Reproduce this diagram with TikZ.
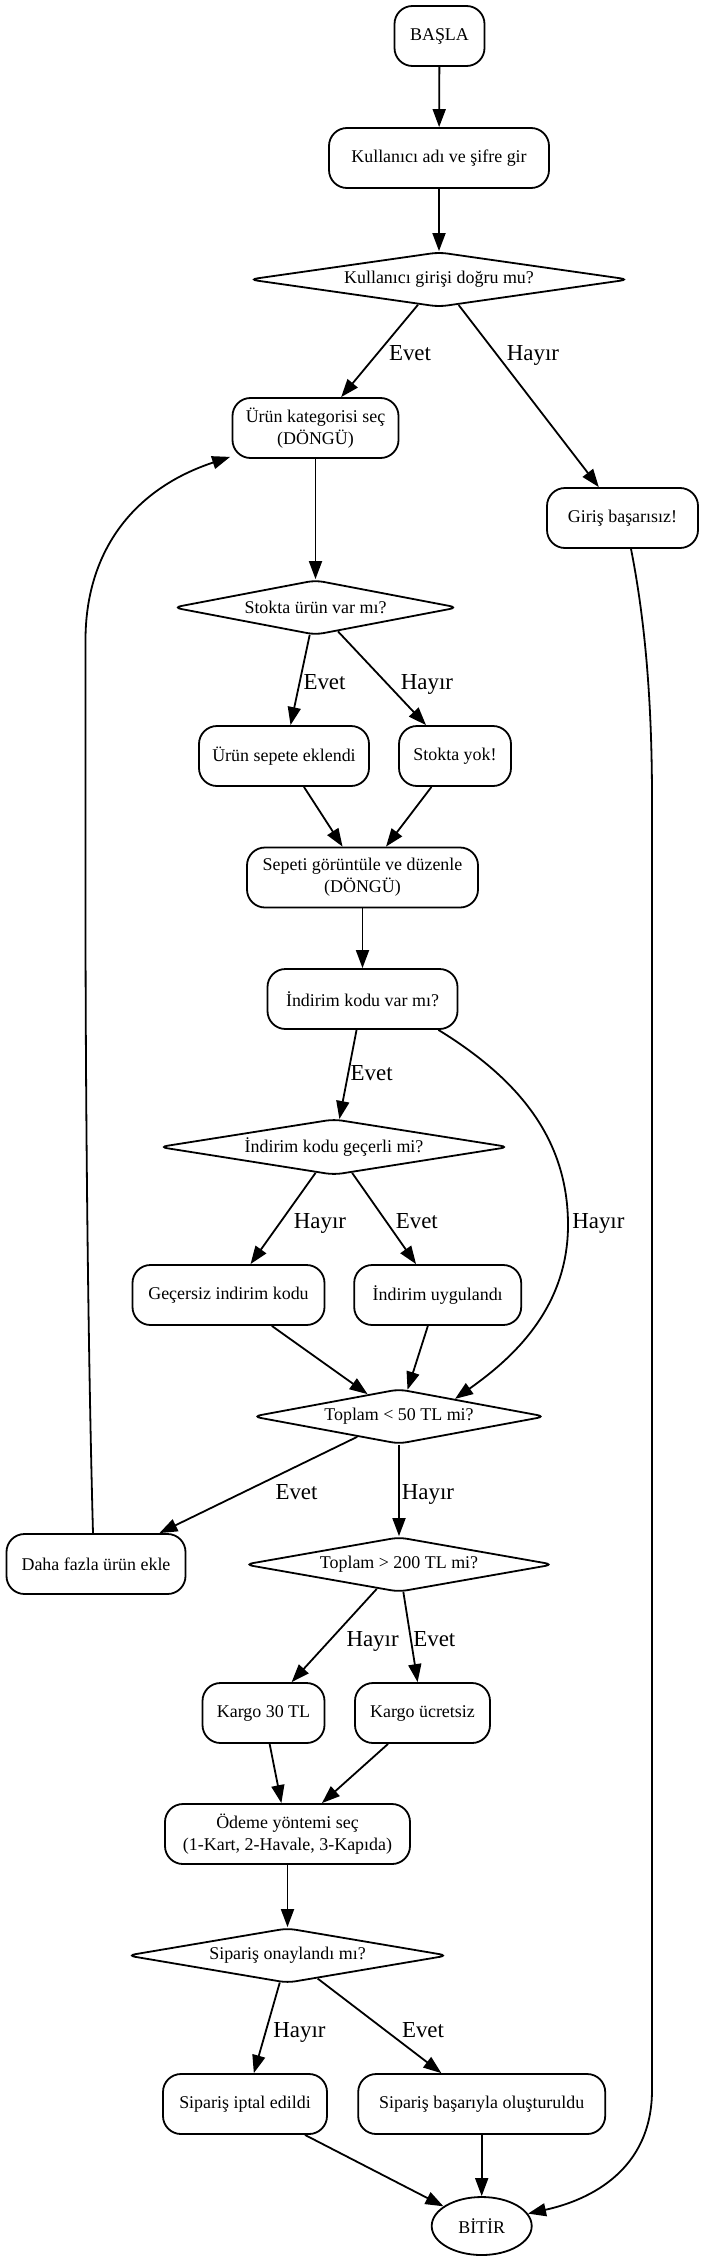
\documentclass[tikz,border=0pt]{standalone}
\usepackage{fontspec}
\setmainfont{Liberation Serif}
\usetikzlibrary{shapes.geometric,arrows.meta,calc}
\begin{document}
\begin{tikzpicture}[x=1bp,y=-1bp,
  box/.style={draw,rounded corners=18bp,line width=1.8bp,inner sep=0pt,align=center,font=\fontsize{18}{22}\selectfont},
  dec/.style={draw,shape=diamond,rounded corners=8bp,line width=1.8bp,inner sep=0pt,font=\fontsize{18}{22}\selectfont},
  term/.style={draw,shape=ellipse,line width=1.8bp,inner sep=0pt,font=\fontsize{18}{22}\selectfont},
  arr/.style={line width=1.8bp,-{Triangle[length=18bp,width=13bp]}},
  lbl/.style={font=\fontsize{23}{26}\selectfont,anchor=base,inner sep=0pt}]
\fill[white] (0,0) rectangle (701,2263);
\useasboundingbox (0,0) rectangle (701,2263);

\node[box,minimum width=90bp,minimum height=60bp] (start) at (439.5,36) {BAŞLA};
\node[box,minimum width=220bp,minimum height=60bp] (login) at (439,158) {Kullanıcı adı ve şifre gir};
\node[dec,minimum width=380bp,minimum height=55bp,shape aspect=6.9] (d1) at (439,279.5) {Kullanıcı girişi doğru mu?};
\node[box,minimum width=166bp,minimum height=60bp] (urun) at (315.5,428) {Ürün kategorisi seç\\(DÖNGÜ)};
\node[box,minimum width=151bp,minimum height=60bp] (giris) at (622.5,518) {Giriş başarısız!};
\node[dec,minimum width=285bp,minimum height=55bp,shape aspect=5.2] (d2) at (315.5,607.5) {Stokta ürün var mı?};
\node[box,minimum width=170bp,minimum height=60bp] (sepete) at (284,756) {Ürün sepete eklendi};
\node[box,minimum width=112bp,minimum height=60bp] (yok) at (455,756) {Stokta yok!};
\node[box,minimum width=231bp,minimum height=60bp] (sepet) at (362.5,877.5) {Sepeti görüntüle ve düzenle\\(DÖNGÜ)};
\node[box,minimum width=190bp,minimum height=60bp] (indvar) at (362.5,999) {İndirim kodu var mı?};
\node[dec,minimum width=350bp,minimum height=56bp,shape aspect=6.25] (d3) at (334,1147) {İndirim kodu geçerli mi?};
\node[box,minimum width=192bp,minimum height=60bp] (gecersiz) at (228.5,1295) {Geçersiz indirim kodu};
\node[box,minimum width=167bp,minimum height=60bp] (uyg) at (437.7,1295) {İndirim uygulandı};
\node[dec,minimum width=293bp,minimum height=55bp,shape aspect=5.33] (d4) at (399,1416.5) {Toplam < 50 TL mi?};
\node[box,minimum width=179bp,minimum height=60bp] (daha) at (96,1564) {Daha fazla ürün ekle};
\node[dec,minimum width=309bp,minimum height=55bp,shape aspect=5.6] (d5) at (399,1564.5) {Toplam > 200 TL mi?};
\node[box,minimum width=122bp,minimum height=60bp] (k30) at (263.5,1713) {Kargo 30 TL};
\node[box,minimum width=135bp,minimum height=60bp] (kuc) at (422.5,1713) {Kargo ücretsiz};
\node[box,minimum width=245bp,minimum height=60bp] (odeme) at (287.5,1834) {Ödeme yöntemi seç\\(1-Kart, 2-Havale, 3-Kapıda)};
\node[dec,minimum width=321bp,minimum height=55bp,shape aspect=5.84] (d6) at (287.5,1955.5) {Sipariş onaylandı mı?};
\node[box,minimum width=164bp,minimum height=60bp] (iptal) at (245,2104) {Sipariş iptal edildi};
\node[box,minimum width=247bp,minimum height=60bp] (basari) at (481.7,2104) {Sipariş başarıyla oluşturuldu};
\node[term,minimum width=100bp,minimum height=58bp] (bitir) at (481.7,2226) {BİTİR};

\draw[arr] (start) -- (login);
\draw[arr] (login) -- (d1);
\draw[arr] (d1) -- (urun);
\draw[arr] (d1) -- (giris);
\draw[arr] (urun) -- (d2);
\draw[arr] (d2) -- (sepete);
\draw[arr] (d2) -- (yok);
\draw[arr] (sepete) -- (sepet);
\draw[arr] (yok) -- (sepet);
\draw[arr] (sepet) -- (indvar);
\draw[arr] (indvar) -- (d3);
\draw[arr] (d3) -- (gecersiz);
\draw[arr] (d3) -- (uyg);
\draw[arr] (gecersiz) -- (d4);
\draw[arr] (uyg) -- (d4);
\draw[arr] ($(indvar.south east)+(-20,0)$) .. controls (520,1080) and (568,1140) .. (568,1225)
  .. controls (568,1310) and (510,1360) .. ($(d4.north)!0.38!(d4.east)$);
\draw[arr] (d4) -- (daha);
\draw[arr] (d4) -- (d5);
\draw[arr] ($(daha.north)+(-3,0)$) .. controls (88,1350) and (85.5,1100) .. (85.5,900) -- (85.5,640)
  .. controls (85.5,555) and (130,490) .. ($(urun.south west)+(-1.5,-2)$);
\draw[arr] (d5) -- (k30);
\draw[arr] (d5) -- (kuc);
\draw[arr] (k30) -- (odeme);
\draw[arr] (kuc) -- (odeme);
\draw[arr] (odeme) -- (d6);
\draw[arr] (d6) -- (iptal);
\draw[arr] (d6) -- (basari);
\draw[arr] (iptal) -- (bitir);
\draw[arr] (basari) -- (bitir);
\draw[arr] ($(giris.south)+(8.5,0)$) .. controls (645,620) and (652,700) .. (652,800) -- (652,2090)
  .. controls (652,2170) and (590,2200) .. (bitir.15);

\node[lbl] (l1) at (410,360.5) {Evet};
\node[lbl] (l2) at (533,360.5) {Hayır};
\node[lbl] (l3) at (324.5,689.5) {Evet};
\node[lbl] (l4) at (427,689.5) {Hayır};
\node[lbl] (l5) at (371.7,1080.5) {Evet};
\node[lbl] (l6) at (320,1228.5) {Hayır};
\node[lbl] (l7) at (416.8,1228.5) {Evet};
\node[lbl] (l8) at (598.4,1228.5) {Hayır};
\node[lbl] (l9) at (296.5,1499.5) {Evet};
\node[lbl] (l10) at (428,1499.5) {Hayır};
\node[lbl] (l11) at (372.6,1646.5) {Hayır};
\node[lbl] (l12) at (434.3,1646.5) {Evet};
\node[lbl] (l13) at (299.5,2037.5) {Hayır};
\node[lbl] (l14) at (423,2037.5) {Evet};
\end{tikzpicture}
\end{document}
